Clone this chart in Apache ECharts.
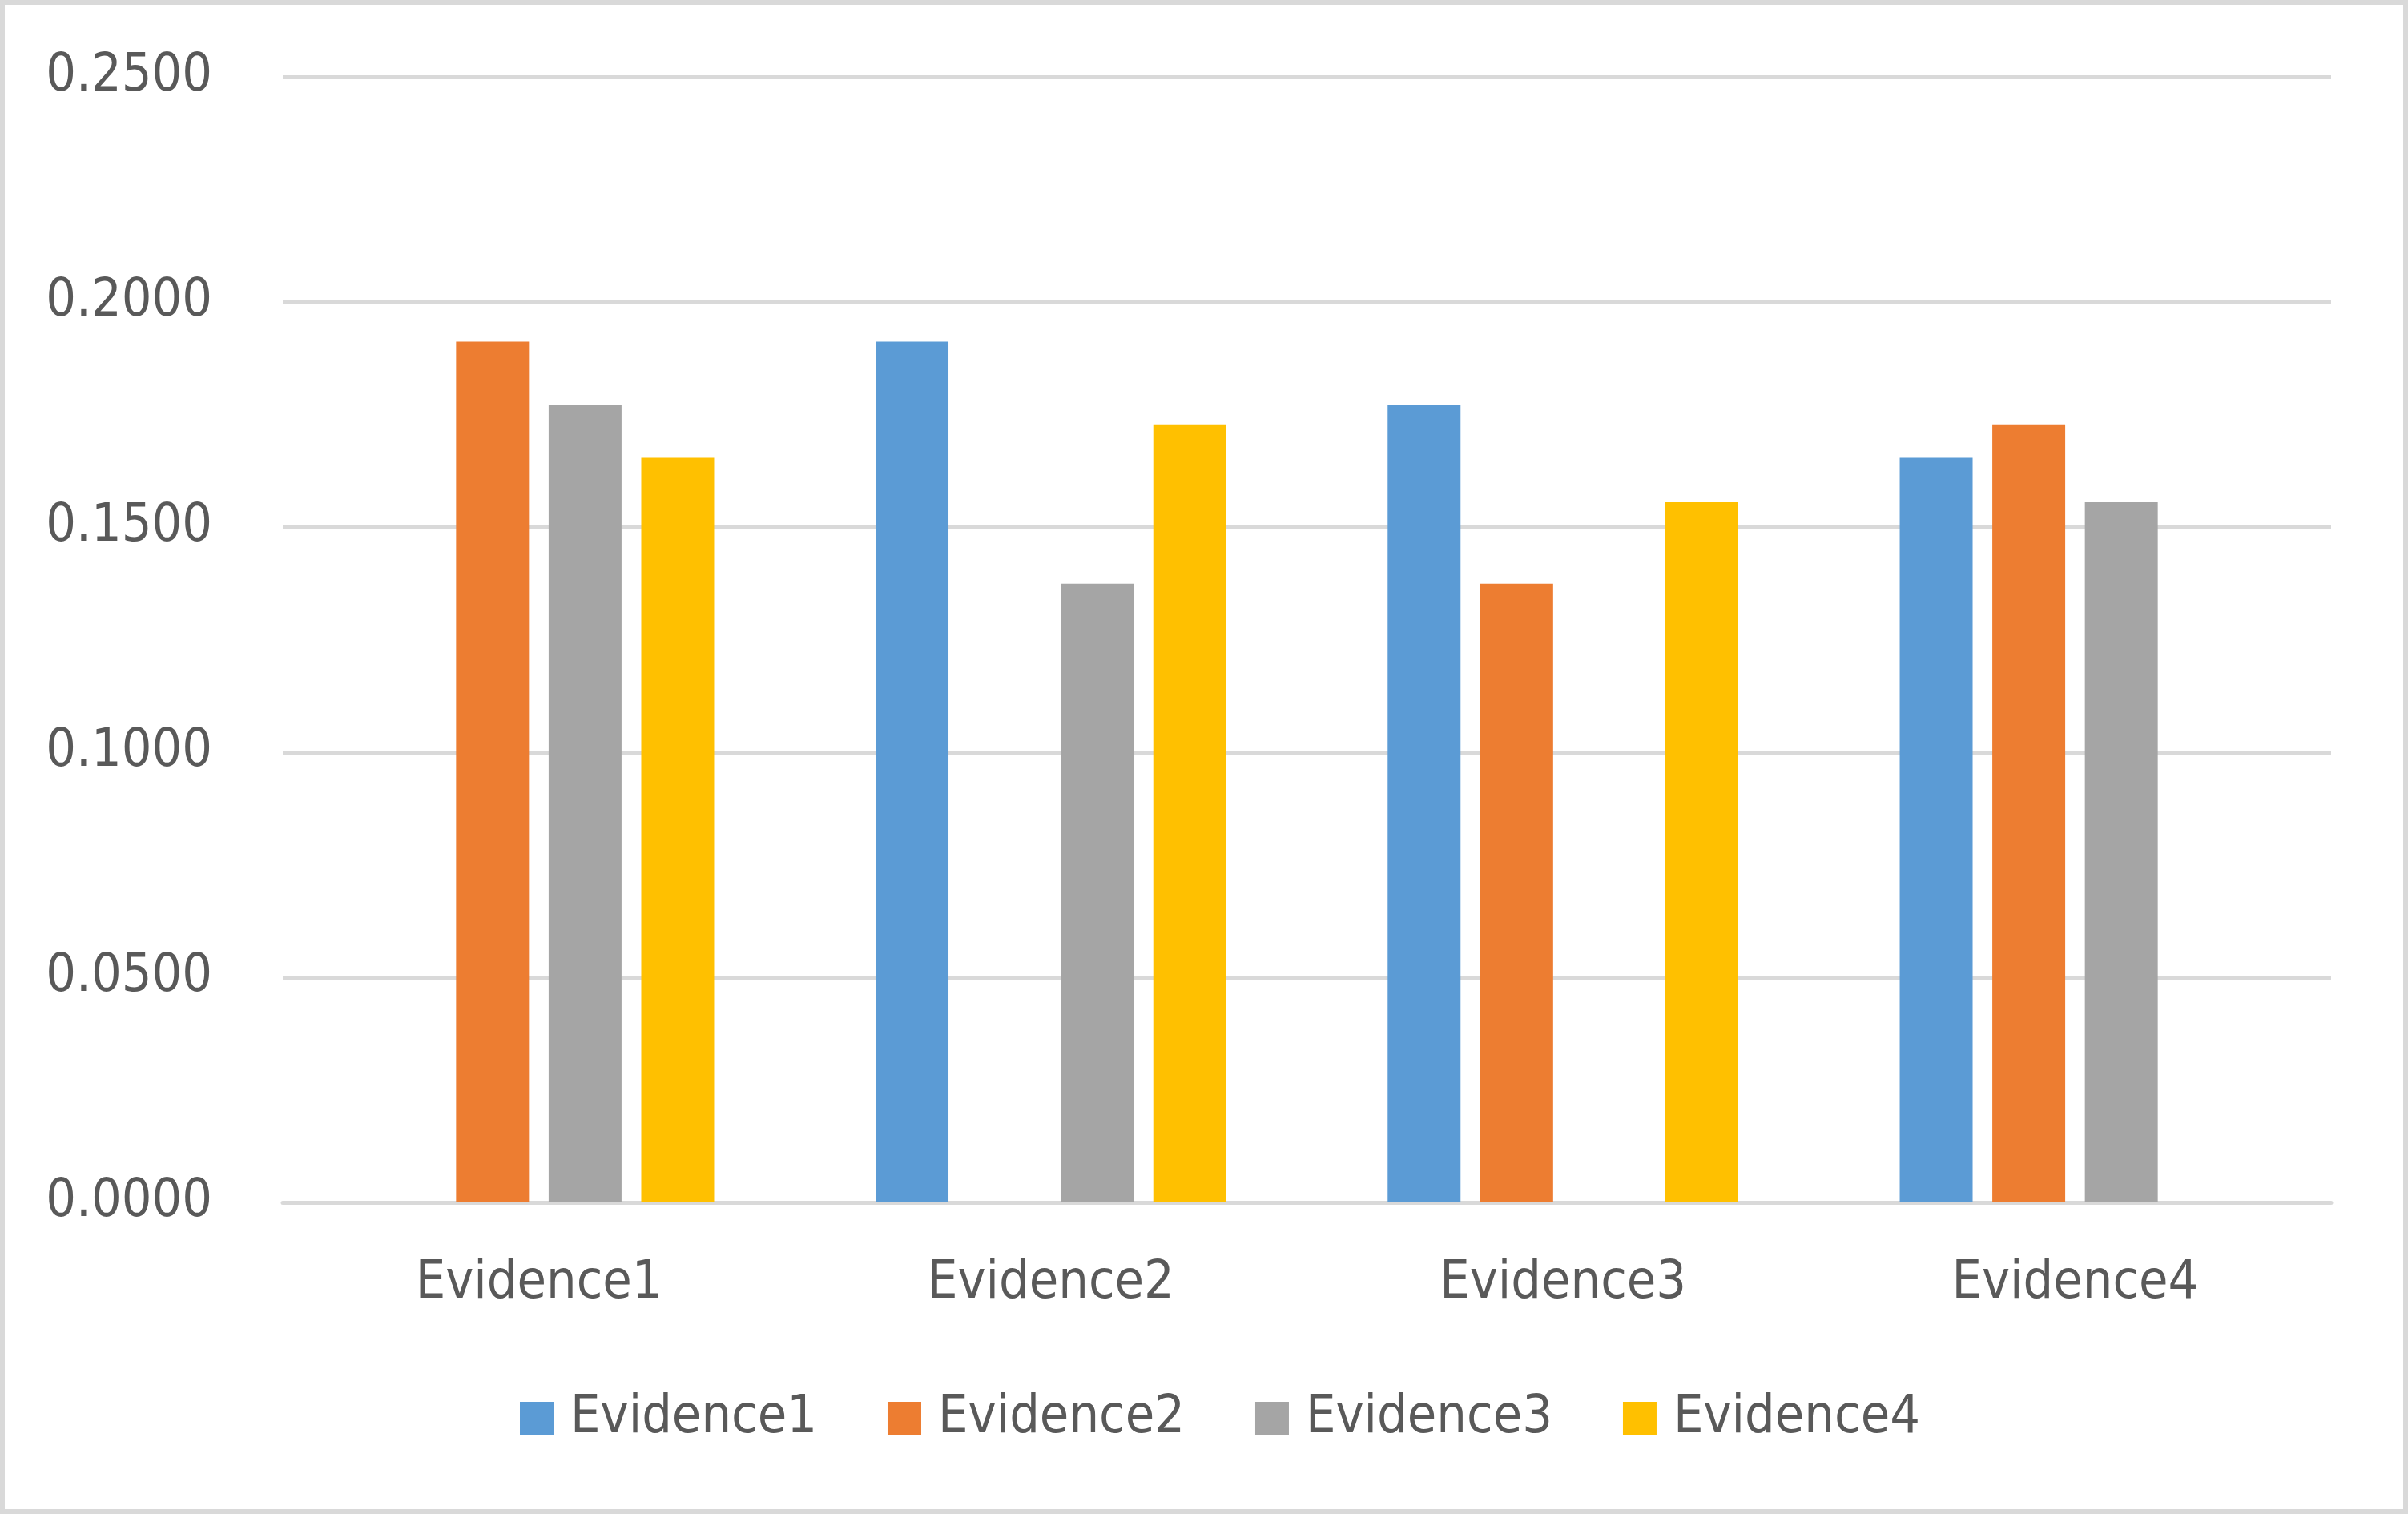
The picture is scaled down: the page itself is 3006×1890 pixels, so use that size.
<!DOCTYPE html>
<html>
<head>
<meta charset="utf-8">
<script src="https://cdn.jsdelivr.net/npm/echarts@6/dist/echarts.min.js"></script>
<style>
  html, body { margin: 0; padding: 0; background: #ffffff; }
  #chart { width: 3006px; height: 1890px; }
</style>
</head>
<body>
<div id="chart"></div>
<script>
const categories = ['Evidence1', 'Evidence2', 'Evidence3', 'Evidence4'];
const seriesNames = ['Evidence1', 'Evidence2', 'Evidence3', 'Evidence4'];
const evidence1 = [null, 0.1912, 0.1772, 0.1654];
const evidence2 = [0.1912, null, 0.1374, 0.1728];
const evidence3 = [0.1772, 0.1374, null, 0.1555];
const evidence4 = [0.1654, 0.1728, 0.1555, null];
const colors = ['#5B9BD5', '#ED7D31', '#A5A5A5', '#FFC000'];

const FONT = '"DejaVu Sans Condensed", "DejaVu Sans", sans-serif';
const TEXT = '#595959';
const GRIDC = '#D9D9D9';

const chart = echarts.init(document.getElementById('chart'), null, { renderer: 'canvas' });
const values = [evidence1, evidence2, evidence3, evidence4];

chart.setOption({
  backgroundColor: '#ffffff',
  animation: false,
  color: colors,
  graphic: [{
    type: 'rect',
    shape: { x: 3, y: 3, width: 3000, height: 1884 },
    style: { fill: 'none', stroke: GRIDC, lineWidth: 6 },
    silent: true
  }],
  grid: { left: 353, right: 96, top: 96, bottom: 389, containLabel: false },
  legend: {
    data: seriesNames,
    left: 644,
    top: 1733,
    itemWidth: 42,
    itemHeight: 42,
    itemGap: 88,
    icon: 'rect',
    textStyle: {
      fontFamily: FONT, fontSize: 66, color: TEXT,
      lineHeight: 66, padding: [0, 0, 0, 16]
    }
  },
  xAxis: {
    type: 'category',
    data: categories,
    axisLine: { show: true, lineStyle: { color: GRIDC, width: 5 } },
    axisTick: { show: false },
    axisLabel: { fontFamily: FONT, fontSize: 66, color: TEXT, margin: 69 },
    splitLine: { show: false }
  },
  yAxis: {
    type: 'value',
    min: 0,
    max: 0.25,
    interval: 0.05,
    axisLine: { show: false },
    axisTick: { show: false },
    axisLabel: {
      fontFamily: FONT, fontSize: 66, color: TEXT, margin: 88,
      formatter: v => v.toFixed(4)
    },
    splitLine: { show: true, lineStyle: { color: GRIDC, width: 5 } }
  },
  series: seriesNames.map((n, i) => ({
    name: n,
    type: 'bar',
    data: values[i],
    barWidth: 91,
    barGap: '27%',
    itemStyle: { color: colors[i] }
  }))
});
</script>
</body>
</html>
